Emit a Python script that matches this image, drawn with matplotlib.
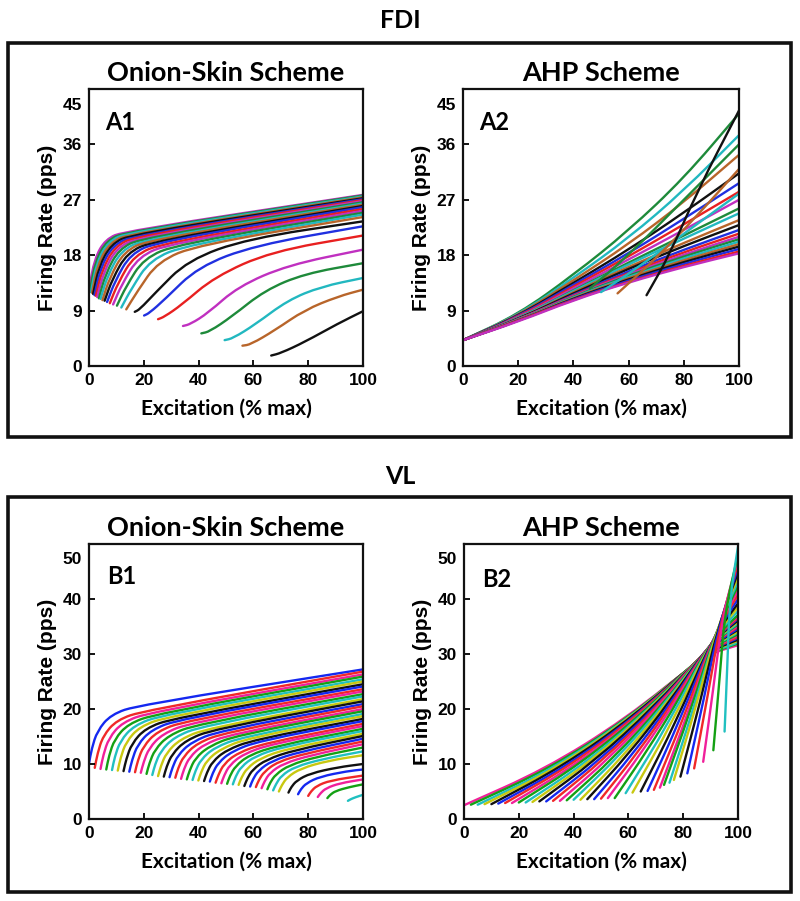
import matplotlib
matplotlib.use("Agg")
import matplotlib.pyplot as plt
from matplotlib.patches import Rectangle, PathPatch
from matplotlib.path import Path

# ---------------- data ----------------
# FDI, onion-skin scheme (A1): one point list per motor unit, first recruited first
a1_x = [
    [0.0, 2.0, 6.0, 13.0, 100],
    [0.3, 2.4, 6.5, 13.6, 100],
    [0.7, 2.8, 7.0, 14.2, 100],
    [1.1, 3.2, 7.5, 14.8, 100],
    [1.5, 3.7, 8.1, 15.5, 100],
    [2.0, 4.2, 8.7, 16.3, 100],
    [2.5, 4.8, 9.4, 17.2, 100],
    [3.0, 5.4, 10.1, 18.2, 100],
    [3.6, 6.1, 10.9, 19.3, 100],
    [4.2, 6.8, 11.8, 20.5, 100],
    [4.9, 7.6, 12.8, 21.9, 100],
    [5.7, 8.5, 13.9, 23.4, 100],
    [6.6, 9.5, 15.1, 25.2, 100],
    [7.6, 10.6, 16.5, 27.2, 100],
    [8.8, 11.9, 18.1, 29.6, 100],
    [10.2, 13.5, 20.0, 32.5, 100],
    [11.8, 15.4, 22.4, 36.0, 100],
    [13.6, 17.6, 25.2, 40.0, 100],
    [16.7, 18.5, 24.0, 36.1, 58.0, 100],
    [20.1, 22.0, 27.6, 39.8, 60.5, 100],
    [25.2, 27.5, 33.7, 45.9, 66.5, 100],
    [34.3, 37.0, 43.4, 54.4, 72.6, 100],
    [41.0, 44.0, 52.0, 64.2, 78.7, 100],
    [49.5, 52.5, 60.5, 72.6, 84.8, 100],
    [56.0, 59.0, 67.8, 78.7, 90.9, 100],
    [66.5, 70.0, 78.7, 90.9, 100],
]
a1_y = [
    [12.4, 17.4, 20.6, 21.9, 27.8],
    [12.2, 17.1, 20.4, 21.8, 27.7],
    [12.0, 16.8, 20.2, 21.7, 27.55],
    [11.9, 16.5, 20.0, 21.5, 27.4],
    [11.7, 16.2, 19.8, 21.4, 27.25],
    [11.5, 15.9, 19.6, 21.2, 27.1],
    [11.4, 15.6, 19.4, 21.1, 26.95],
    [11.2, 15.3, 19.2, 20.9, 26.8],
    [11.0, 15.0, 19.0, 20.8, 26.6],
    [10.9, 14.7, 18.8, 20.6, 26.4],
    [10.7, 14.4, 18.6, 20.5, 26.2],
    [10.6, 14.1, 18.4, 20.3, 26.0],
    [10.4, 13.8, 18.2, 20.2, 25.8],
    [10.2, 13.5, 18.0, 20.0, 25.5],
    [10.0, 13.2, 17.8, 19.9, 25.2],
    [9.8, 12.9, 17.5, 19.8, 24.9],
    [9.5, 12.5, 17.3, 19.7, 24.6],
    [9.2, 12.1, 17.0, 19.7, 24.2],
    [8.8, 9.2, 11.8, 17.2, 20.7, 23.5],
    [8.2, 8.6, 10.8, 16.1, 19.6, 22.7],
    [7.6, 8.0, 9.9, 14.5, 18.6, 21.2],
    [6.5, 6.8, 8.6, 12.9, 16.4, 18.9],
    [5.3, 5.6, 8.0, 12.3, 15.0, 16.7],
    [4.2, 4.5, 6.7, 10.7, 12.9, 14.3],
    [3.3, 3.5, 5.8, 9.1, 11.3, 12.4],
    [1.7, 2.1, 3.9, 6.9, 8.9],
]

# FDI, AHP scheme (A2): early units read at fixed excitation levels, late units separately
a2_grid = [0, 20, 40, 60, 80, 100]
a2_early_y = [
    [4.2, 8.4, 14.8, 22.0, 30.5, 41.0],
    [4.2, 8.3, 14.3, 20.8, 28.5, 37.5],
    [4.2, 8.2, 13.9, 19.8, 26.6, 34.3],
    [4.2, 8.1, 13.5, 18.9, 24.9, 31.3],
    [4.2, 8.0, 13.2, 18.3, 23.9, 29.7],
    [4.2, 7.9, 12.9, 17.8, 23.0, 28.3],
    [4.2, 7.8, 12.6, 17.3, 22.1, 27.0],
    [4.2, 7.7, 12.3, 16.8, 21.2, 25.6],
    [4.2, 7.7, 12.2, 16.5, 20.7, 24.8],
    [4.2, 7.6, 12.0, 16.1, 20.0, 23.7],
    [4.2, 7.6, 11.8, 15.8, 19.5, 22.9],
    [4.2, 7.5, 11.6, 15.4, 18.9, 22.1],
    [4.2, 7.5, 11.5, 15.1, 18.5, 21.5],
    [4.2, 7.5, 11.4, 14.9, 18.1, 21.0],
    [4.2, 7.4, 11.3, 14.7, 17.8, 20.6],
    [4.2, 7.4, 11.2, 14.5, 17.5, 20.2],
    [4.2, 7.4, 11.1, 14.3, 17.2, 19.8],
    [4.2, 7.3, 11.0, 14.1, 16.9, 19.4],
    [4.2, 7.3, 10.9, 13.9, 16.6, 19.0],
    [4.2, 7.3, 10.8, 13.7, 16.3, 18.6],
    [4.2, 7.2, 10.7, 13.6, 16.1, 18.3],
]
a2_late_x = [
    [46.0, 60.0, 80.0, 100],
    [50.0, 65.0, 80.0, 100],
    [56.0, 70.0, 85.0, 100],
    [66.5, 75.0, 85.0, 100],
]
a2_late_y = [
    [12.6, 18.0, 27.0, 36.0],
    [12.0, 16.5, 21.5, 28.0],
    [11.8, 17.5, 24.5, 32.0],
    [11.5, 18.2, 28.5, 41.5],
]

# VL, onion-skin scheme (B1)
b1_x = [
    [0, 1, 3, 8, 18, 100],
    [2.1, 3.1, 5.1, 10.1, 20.1, 100],
    [4.2, 5.2, 7.2, 12.2, 22.2, 100],
    [6.3, 7.3, 9.3, 14.3, 24.3, 100],
    [8.4, 9.4, 11.4, 16.4, 26.4, 100],
    [10.5, 11.5, 13.5, 18.5, 28.5, 100],
    [12.6, 13.6, 15.6, 20.6, 30.6, 100],
    [14.7, 15.7, 17.7, 22.7, 32.7, 100],
    [16.8, 17.8, 19.8, 24.8, 34.8, 100],
    [18.9, 19.9, 21.9, 26.9, 36.9, 100],
    [21.0, 22.0, 24.0, 29.0, 39.0, 100],
    [23.1, 24.1, 26.1, 31.1, 41.1, 100],
    [25.2, 26.2, 28.2, 33.2, 43.2, 100],
    [27.3, 28.3, 30.3, 35.3, 45.3, 100],
    [29.4, 30.4, 32.4, 37.4, 47.4, 100],
    [31.5, 32.5, 34.5, 39.5, 49.5, 100],
    [33.6, 34.6, 36.6, 41.6, 51.6, 100],
    [35.7, 36.7, 38.7, 43.7, 53.7, 100],
    [37.8, 38.8, 40.8, 45.8, 55.8, 100],
    [39.9, 40.9, 42.9, 47.9, 57.9, 100],
    [42.0, 43.0, 45.0, 50.0, 60.0, 100],
    [44.1, 45.1, 47.1, 52.1, 62.1, 100],
    [46.2, 47.2, 49.2, 54.2, 64.2, 100],
    [48.3, 49.3, 51.3, 56.3, 66.3, 100],
    [50.4, 51.4, 53.4, 58.4, 68.4, 100],
    [52.5, 53.5, 55.5, 60.5, 70.5, 100],
    [54.6, 55.6, 57.6, 62.6, 72.6, 100],
    [56.7, 57.7, 59.7, 64.7, 74.7, 100],
    [58.8, 59.8, 61.8, 66.8, 76.8, 100],
    [60.9, 61.9, 63.9, 68.9, 78.9, 100],
    [63.0, 64.0, 66.0, 71.0, 81.0, 100],
    [65.1, 66.1, 68.1, 73.1, 83.1, 100],
    [67.2, 68.2, 70.2, 75.2, 85.2, 100],
    [69.3, 70.3, 72.3, 77.3, 87.3, 100],
    [72.8, 73.8, 75.8, 80.8, 90.8, 100],
    [76.3, 77.3, 79.3, 84.3, 94.3, 100],
    [80.0, 81.0, 83.0, 88.0, 100],
    [83.5, 84.5, 86.5, 91.5, 100],
    [87.0, 88.0, 90.0, 95.0, 100],
    [94.5, 95.5, 97.5, 100],
]
b1_y = [
    [10.1, 12.8, 16.0, 19.0, 20.7, 27.2],
    [9.3, 11.9, 15.1, 18.0, 19.7, 26.8],
    [9.1, 11.6, 14.7, 17.6, 19.4, 26.3],
    [9.0, 11.5, 14.5, 17.3, 19.1, 25.9],
    [8.9, 11.3, 14.2, 17.0, 18.9, 25.4],
    [8.8, 11.1, 14.0, 16.8, 18.6, 25.0],
    [8.7, 10.9, 13.7, 16.5, 18.3, 24.5],
    [8.6, 10.7, 13.5, 16.2, 18.1, 24.1],
    [8.5, 10.6, 13.2, 15.9, 17.8, 23.6],
    [8.4, 10.3, 12.9, 15.5, 17.5, 23.2],
    [8.2, 10.1, 12.6, 15.2, 17.2, 22.7],
    [8.0, 9.9, 12.3, 14.9, 16.9, 22.3],
    [7.8, 9.6, 12.0, 14.5, 16.5, 21.8],
    [7.7, 9.5, 11.8, 14.3, 16.3, 21.4],
    [7.6, 9.3, 11.6, 14.0, 16.0, 20.9],
    [7.5, 9.2, 11.4, 13.8, 15.7, 20.5],
    [7.3, 9.0, 11.2, 13.5, 15.4, 20.0],
    [7.2, 8.8, 11.0, 13.2, 15.2, 19.6],
    [7.1, 8.7, 10.8, 13.0, 14.9, 19.1],
    [7.0, 8.5, 10.6, 12.7, 14.7, 18.7],
    [6.9, 8.4, 10.4, 12.5, 14.4, 18.2],
    [6.8, 8.3, 10.2, 12.3, 14.2, 17.8],
    [6.6, 8.0, 10.0, 12.0, 13.8, 17.3],
    [6.5, 7.9, 9.8, 11.8, 13.6, 16.9],
    [6.4, 7.8, 9.6, 11.6, 13.3, 16.4],
    [6.3, 7.7, 9.5, 11.4, 13.1, 16.0],
    [6.2, 7.5, 9.2, 11.1, 12.8, 15.5],
    [6.0, 7.3, 9.0, 10.8, 12.5, 15.1],
    [5.9, 7.2, 8.8, 10.6, 12.2, 14.6],
    [5.8, 7.0, 8.6, 10.4, 11.9, 14.1],
    [5.6, 6.8, 8.4, 10.1, 11.6, 13.6],
    [5.4, 6.6, 8.1, 9.8, 11.3, 13.0],
    [5.2, 6.3, 7.9, 9.5, 10.9, 12.3],
    [5.0, 6.1, 7.6, 9.2, 10.6, 11.6],
    [4.8, 5.8, 7.0, 8.3, 9.4, 10.0],
    [4.5, 5.4, 6.5, 7.7, 8.7, 9.0],
    [4.2, 5.0, 6.0, 7.0, 7.9],
    [4.0, 4.7, 5.6, 6.5, 7.2],
    [3.8, 4.4, 5.1, 5.8, 6.3],
    [3.3, 3.6, 4.0, 4.4],
]

# VL, AHP scheme (B2)
b2_x = [
    [0.0, 29.3, 58.7, 88.0, 100],
    [2.5, 31.0, 59.6, 88.1, 100],
    [5.0, 32.7, 60.5, 88.2, 100],
    [7.5, 34.4, 61.4, 88.3, 100],
    [10.0, 36.1, 62.3, 88.4, 100],
    [12.5, 37.8, 63.2, 88.5, 100],
    [15.0, 39.5, 64.1, 88.6, 100],
    [17.5, 41.2, 65.0, 88.7, 100],
    [20.0, 42.9, 65.9, 88.8, 100],
    [22.5, 44.6, 66.8, 88.9, 100],
    [25.0, 46.3, 67.7, 89.0, 100],
    [27.5, 48.0, 68.6, 89.1, 100],
    [30.0, 49.7, 69.5, 89.2, 100],
    [32.5, 51.4, 70.4, 89.3, 100],
    [35.0, 53.1, 71.3, 89.4, 100],
    [37.5, 54.8, 72.2, 89.5, 100],
    [40.0, 56.5, 73.1, 89.6, 100],
    [42.5, 58.2, 74.0, 89.7, 100],
    [45.0, 59.9, 74.9, 89.8, 100],
    [47.5, 61.6, 75.8, 89.9, 100],
    [50.0, 63.3, 76.7, 90.0, 100],
    [52.5, 65.0, 77.6, 90.1, 100],
    [55.0, 66.7, 78.5, 90.2, 100],
    [59.0, 74.7, 90.4, 100],
    [61.5, 76.1, 90.6, 100],
    [64.5, 77.7, 90.8, 100],
    [67.0, 79.0, 91.0, 100],
    [69.3, 80.3, 91.3, 100],
    [71.5, 81.6, 91.6, 100],
    [73.0, 82.5, 91.9, 100],
    [75.0, 83.6, 92.2, 100],
    [76.6, 84.6, 92.5, 100],
    [79.0, 86.0, 92.9, 100],
    [81.5, 87.4, 93.3, 100],
    [84.0, 88.9, 93.8, 100],
    [87.3, 90.9, 94.4, 100],
    [91.0, 93.2, 95.3, 100],
    [95.1, 96.1, 97.0, 100],
]
b2_y = [
    [2.5, 9.0, 18.1, 29.8, 31.6],
    [2.6, 9.1, 18.2, 29.9, 31.9],
    [2.6, 9.2, 18.4, 30.0, 32.1],
    [2.7, 9.4, 18.6, 30.2, 32.4],
    [2.7, 9.6, 18.8, 30.3, 32.6],
    [2.8, 9.7, 18.9, 30.4, 32.9],
    [2.9, 9.9, 19.1, 30.5, 33.1],
    [2.9, 10.0, 19.2, 30.6, 33.4],
    [3.0, 10.2, 19.5, 30.8, 33.6],
    [3.0, 10.3, 19.6, 30.9, 33.9],
    [3.1, 10.5, 19.8, 31.0, 34.1],
    [3.2, 10.7, 20.0, 31.1, 34.4],
    [3.2, 10.8, 20.1, 31.2, 34.6],
    [3.3, 11.0, 20.3, 31.4, 34.9],
    [3.3, 11.1, 20.5, 31.5, 35.1],
    [3.4, 11.2, 20.6, 31.6, 35.4],
    [3.5, 11.4, 20.8, 31.7, 35.6],
    [3.5, 11.5, 21.0, 31.8, 35.9],
    [3.6, 11.7, 21.2, 32.0, 36.1],
    [3.6, 11.8, 21.3, 32.1, 36.4],
    [3.7, 12.0, 21.5, 32.2, 36.6],
    [3.8, 12.2, 21.7, 32.3, 36.9],
    [3.8, 12.3, 21.8, 32.4, 37.1],
    [4.7, 17.4, 32.6, 37.8],
    [4.8, 17.6, 32.8, 38.5],
    [5.0, 18.0, 33.0, 39.2],
    [5.1, 18.2, 33.2, 40.0],
    [5.3, 18.5, 33.5, 40.8],
    [5.7, 19.0, 33.8, 41.6],
    [6.2, 19.4, 34.1, 42.4],
    [6.6, 19.8, 34.4, 43.2],
    [7.1, 20.3, 34.8, 44.0],
    [7.7, 20.9, 35.2, 44.8],
    [8.3, 21.5, 35.7, 45.6],
    [9.2, 22.3, 36.2, 46.4],
    [10.4, 23.4, 37.0, 47.2],
    [12.5, 25.1, 38.0, 48.0],
    [15.9, 27.9, 40.0, 49.5],
]

fdi_ticks = [0, 9, 18, 27, 36, 45]
vl_ticks = [0, 10, 20, 30, 40, 50]
exc_ticks = [0, 20, 40, 60, 80, 100]

# colour order, counted back from the last recruited unit
a_colors = ["#111111", "#b8652a", "#22b8c0", "#1e8a3a", "#c030c0", "#e82020", "#2030e0"]
b_colors = ["#20c0c0", "#14a014", "#f0209a", "#f02828", "#1428f0", "#111111", "#c8c810"]

W, H = 800, 901
fig = plt.figure(figsize=(W / 100, H / 100), dpi=100)

TITLE_FONT = ["Lato", "DejaVu Sans"]
TICK_FONT = ["Liberation Sans Narrow", "Liberation Sans", "DejaVu Sans"]


def fx(px):
    return px / W


def fy(py):
    return 1 - py / H


def box(left, top, right, bottom):
    fig.add_artist(Rectangle((fx(left), fy(bottom)), (right - left) / W, (bottom - top) / H,
                             transform=fig.transFigure, fill=False, lw=2.6, ec="#111111"))


def make_axes(left, top, right, bottom, title, tag, ticks, tag_xy):
    ax = fig.add_axes([fx(left), fy(bottom), (right - left) / W, (bottom - top) / H])
    ax.set_xlim(0, 100)
    ax.set_ylim(0, ticks[-1])
    ax.set_xticks(exc_ticks)
    ax.set_yticks(ticks)
    ax.set_yticklabels([str(t) for t in ticks[:-1]] + [""])
    ax.tick_params(direction="in", length=4, width=1.3, labelsize=12.5, pad=5,
                   top=False, right=False)
    for lab in ax.get_xticklabels() + ax.get_yticklabels():
        lab.set_fontweight("bold")
        lab.set_family(TICK_FONT)
    # top label sits a little below the upper frame in the original
    ax.annotate(str(ticks[-1]), xy=(0, ticks[-1]), xycoords=("axes fraction", "data"),
                xytext=(-7, -16), textcoords="offset pixels", ha="right", va="center",
                fontsize=12.5, fontweight="bold", family=TICK_FONT)
    for s in ax.spines.values():
        s.set_linewidth(1.6)
        s.set_color("#111111")
    ax.set_xlabel("Excitation (% max)", fontsize=15, fontweight="bold", family=TITLE_FONT,
                  va="center")
    ax.set_ylabel("Firing Rate (pps)", fontsize=15, fontweight="bold",
                  family=["Liberation Sans", "DejaVu Sans"], va="center", ha="center")
    ax.xaxis.set_label_coords(0.5, -0.155)
    ax.yaxis.set_label_coords(-0.15, 0.5)
    ax.text(0.5, 1 + 16 / (bottom - top), title, transform=ax.transAxes, ha="center",
            va="center", fontsize=19.5, fontweight="bold", family=TITLE_FONT)
    ax.text(tag_xy[0], tag_xy[1], tag, ha="left", va="center", fontsize=17,
            fontweight="bold", family=TITLE_FONT)
    return ax


def rounded(x, y):
    # read points joined by straight runs, corners drawn as quadratic curves
    pts = list(zip(x, y))
    if len(pts) < 3:
        return Path(pts)
    half = [((pts[i][0] + pts[i + 1][0]) / 2, (pts[i][1] + pts[i + 1][1]) / 2)
            for i in range(len(pts) - 1)]
    verts = [pts[0], half[0]]
    codes = [Path.MOVETO, Path.LINETO]
    for i in range(1, len(pts) - 1):
        verts += [pts[i], half[i]]
        codes += [Path.CURVE3, Path.CURVE3]
    verts.append(pts[-1])
    codes.append(Path.LINETO)
    return Path(verts, codes)


def draw_units(ax, xs, ys, colors):
    n = len(xs)
    for i in range(n):
        ax.add_patch(PathPatch(rounded(xs[i], ys[i]), fill=False, lw=1.7,
                               ec=colors[(n - 1 - i) % len(colors)],
                               joinstyle="round", capstyle="round"))


# section headings and frames
fig.text(0.5, fy(21), "FDI", ha="center", va="center", fontsize=18, fontweight="bold",
         family=TITLE_FONT)
fig.text(0.5, fy(476), "VL", ha="center", va="center", fontsize=18, fontweight="bold",
         family=TITLE_FONT)
box(8, 43, 791, 437)
box(8, 497, 791, 892)

ax_a1 = make_axes(89, 89, 363, 366, "Onion-Skin Scheme", "A1", fdi_ticks, (6, 39.6))
draw_units(ax_a1, a1_x, a1_y, a_colors)

ax_a2 = make_axes(463, 89, 739, 366, "AHP Scheme", "A2", fdi_ticks, (6, 39.6))
a2_xs = [a2_grid] * len(a2_early_y) + a2_late_x
a2_ys = a2_early_y + a2_late_y
draw_units(ax_a2, a2_xs, a2_ys, a_colors)

ax_b1 = make_axes(89, 544, 363, 819, "Onion-Skin Scheme", "B1", vl_ticks, (6.5, 44))
draw_units(ax_b1, b1_x, b1_y, b_colors)

ax_b2 = make_axes(464, 544, 738, 819, "AHP Scheme", "B2", vl_ticks, (6.5, 43.5))
draw_units(ax_b2, b2_x, b2_y, b_colors)

fig.savefig("out.png", dpi=100)
